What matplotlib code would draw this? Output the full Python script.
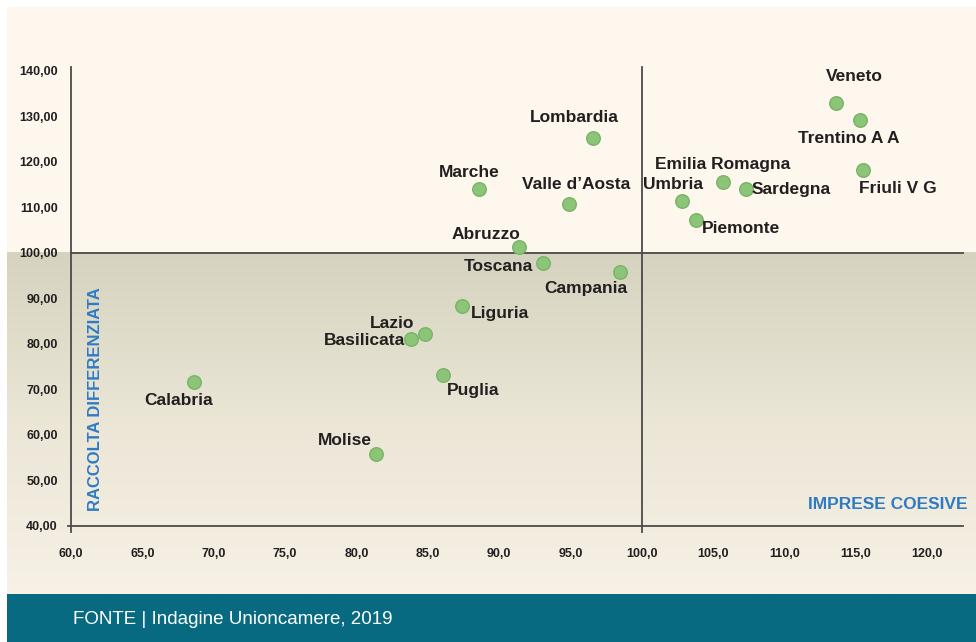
import numpy as np
import matplotlib
matplotlib.use('Agg')
import matplotlib.pyplot as plt
from matplotlib.patches import Rectangle
from matplotlib.colors import LinearSegmentedColormap
from matplotlib.ticker import FuncFormatter

# dati
regioni = ['Veneto', 'Trentino A A', 'Friuli V G', 'Lombardia', 'Marche',
           'Valle d\u2019Aosta', 'Emilia Romagna', 'Sardegna', 'Umbria', 'Piemonte',
           'Abruzzo', 'Toscana', 'Campania', 'Liguria', 'Lazio', 'Basilicata',
           'Puglia', 'Calabria', 'Molise']
imprese_coesive = [113.6, 115.3, 115.5, 96.6, 88.6, 94.9, 105.7, 107.3, 102.8, 103.8,
                   91.4, 93.1, 98.5, 87.4, 84.8, 83.8, 86.1, 68.6, 81.4]
raccolta_diff = [132.9, 129.1, 118.2, 125.2, 113.9, 110.6, 115.5, 113.9, 111.3, 107.2,
                 101.3, 97.7, 95.7, 88.3, 82.1, 81.1, 73.2, 71.7, 55.7]
x_ticks = np.arange(60, 121, 5)
y_ticks = np.arange(40, 141, 10)

# posizione delle etichette rispetto al punto (pixel: dx, dy verso il basso, allineamento)
pos_etichette = {
    'Veneto': (18, -26, 'center'), 'Trentino A A': (-11, 18, 'center'),
    'Friuli V G': (35, 19, 'center'), 'Lombardia': (-19, -20, 'center'),
    'Marche': (-10, -17, 'center'), 'Valle d\u2019Aosta': (7, -20, 'center'),
    'Emilia Romagna': (-1, -18, 'center'), 'Sardegna': (5, 0, 'left'),
    'Umbria': (-9, -17, 'center'), 'Piemonte': (6, 9, 'left'),
    'Abruzzo': (-33, -12, 'center'), 'Toscana': (-10, 3, 'right'),
    'Campania': (-35, 16, 'center'), 'Liguria': (9, 8, 'left'),
    'Lazio': (-33, -11, 'center'), 'Basilicata': (-6, 2, 'right'),
    'Puglia': (3, 16, 'left'), 'Calabria': (-15, 19, 'center'),
    'Molise': (-32, -14, 'center'),
}

plt.rcParams['font.family'] = ['Liberation Sans', 'DejaVu Sans']

W, H = 976, 642
fig = plt.figure(figsize=(W / 100, H / 100), dpi=100)
fig.patch.set_facecolor('white')

bg = fig.add_axes([0, 0, 1, 1], zorder=0)
ax = fig.add_axes([71 / W, 1 - 526 / H, 892 / W, 455.5 / H], zorder=1)
ax.set_xlim(60, 122.5)
ax.set_ylim(40, 140)
ax.patch.set_alpha(0)

# sfondo
y100 = H - ax.transData.transform((60, 100))[1]
bg.add_patch(Rectangle((7, 7), W - 7, 587, color='#fdf7ee', lw=0, zorder=1))
grad = np.linspace(0, 1, 256).reshape(-1, 1)
cmap = LinearSegmentedColormap.from_list('sf', ['#d5d3bf', '#ebe6d6', '#f7f1e6'])
bg.imshow(grad, cmap=cmap, extent=[7, W, 594, y100], aspect='auto', zorder=2)
bg.add_patch(Rectangle((7, 594), W - 7, 48, color='#076a80', lw=0, zorder=3))
bg.text(73, 620, 'FONTE | Indagine Unioncamere, 2019', color='white',
        fontsize=13.5, va='center', zorder=4)
bg.set_xlim(0, W)
bg.set_ylim(H, 0)
bg.axis('off')

# assi e linee di riferimento
axcol = '#4d4a48'
for s in ax.spines.values():
    s.set_visible(False)
ax.plot([60, 60], [38.7, 140.8], color=axcol, lw=1.3, clip_on=False)
ax.plot([59.8, 122.5], [40, 40], color=axcol, lw=1.3, clip_on=False)
ax.plot([100, 100], [38.7, 140.8], color=axcol, lw=1.3, clip_on=False)
ax.plot([60, 122.5], [100, 100], color=axcol, lw=1.3, clip_on=False)

ax.set_xticks(x_ticks)
ax.set_yticks(y_ticks)
ax.xaxis.set_major_formatter(FuncFormatter(lambda v, p: f'{v:.1f}'.replace('.', ',')))
ax.yaxis.set_major_formatter(FuncFormatter(lambda v, p: f'{v:.2f}'.replace('.', ',')))
ax.tick_params(axis='y', length=0, pad=9.5)
ax.tick_params(axis='x', length=0, pad=16)
for lab in ax.get_xticklabels() + ax.get_yticklabels():
    lab.set_fontweight('bold')
    lab.set_fontsize(9)
    lab.set_color('#231f20')

# punti
ax.scatter(imprese_coesive, raccolta_diff, s=95, color='#8cc578',
           edgecolor='#79b366', linewidth=1, zorder=3)

for nome, x, y in zip(regioni, imprese_coesive, raccolta_diff):
    dx, dy, ha = pos_etichette[nome]
    ax.annotate(nome, (x, y), xytext=(dx, -dy), textcoords='offset pixels',
                ha=ha, va='center', fontsize=12.5, fontweight='bold',
                color='#231f20', zorder=4)

ax.text(0.0272, 0.0336, 'RACCOLTA DIFFERENZIATA', transform=ax.transAxes,
        rotation=90, ha='center', va='bottom', color='#2e7bc4',
        fontsize=12, fontweight='bold')
ax.text(1.0053, 0.0476, 'IMPRESE COESIVE', transform=ax.transAxes,
        ha='right', va='center', color='#2e7bc4', fontsize=12.5, fontweight='bold')

fig.savefig('out.png', dpi=100)
